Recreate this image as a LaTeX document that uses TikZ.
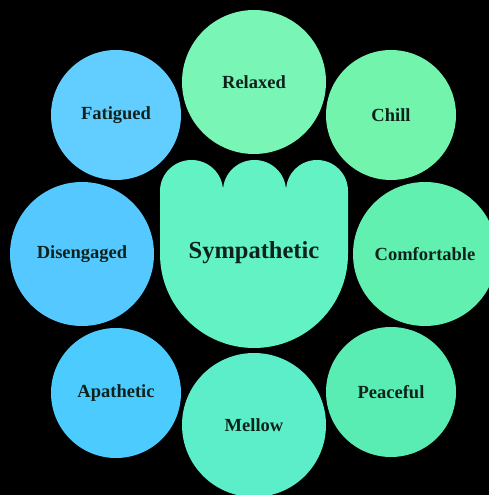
\documentclass[tikz,border=0pt]{standalone}
\usepackage{fontspec}
\setmainfont{Liberation Serif}
\definecolor{ink}{HTML}{0E221C}
\definecolor{cRelaxed}{HTML}{79F5B6}
\definecolor{cFatigued}{HTML}{62CEFF}
\definecolor{cChill}{HTML}{72F4AD}
\definecolor{cDiseng}{HTML}{55C9FF}
\definecolor{cComf}{HTML}{62F0B0}
\definecolor{cApath}{HTML}{4BCBFE}
\definecolor{cMellow}{HTML}{5BEEC9}
\definecolor{cPeace}{HTML}{59EDB4}
\definecolor{cCenter}{HTML}{62F2C3}
\newcommand\bubblefont{\fontsize{18.5}{20}\selectfont\bfseries}
\newcommand\bigfont{\fontsize{24.5}{26}\selectfont\bfseries}
\begin{document}
\begin{tikzpicture}[x=1pt,y=1pt,
  bubble/.style={circle, minimum size=#1, inner sep=0pt, font=\bubblefont, text=ink}]
\fill[black] (0,0) rectangle (489,495);
\useasboundingbox (0,0) rectangle (489,495);
\clip (0,0) rectangle (489,495);
\node[bubble=144pt, fill=cRelaxed] (relaxed) at (254,413) {Relaxed};
\node[bubble=130pt, fill=cFatigued] (fatigued) at (116,380) {Fatigued};
\node[bubble=130pt, fill=cChill] (chill) at (391,380) {Chill};
\node[bubble=144pt, fill=cDiseng] (diseng) at (82,241) {Disengaged};
\node[bubble=144pt, fill=cComf] (comf) at (425,241) {Comfortable};
\node[bubble=130pt, fill=cApath] (apath) at (116,102) {Apathetic};
\node[bubble=144pt, fill=cMellow] (mellow) at (254,70) {Mellow};
\node[bubble=130pt, fill=cPeace] (peace) at (391,103) {Peaceful};
\fill[cCenter] (160,241) -- (160,304)
  arc[start angle=180,end angle=0,x radius=31.5,y radius=31]
  arc[start angle=180,end angle=0,x radius=31.5,y radius=31]
  arc[start angle=180,end angle=0,x radius=31,y radius=31]
  -- (348,241)
  arc[start angle=0,end angle=-180,radius=94] -- cycle;
\node[font=\bigfont, text=ink, inner sep=0pt] (sym) at (254,242) {Sympathetic};
\end{tikzpicture}
\end{document}
